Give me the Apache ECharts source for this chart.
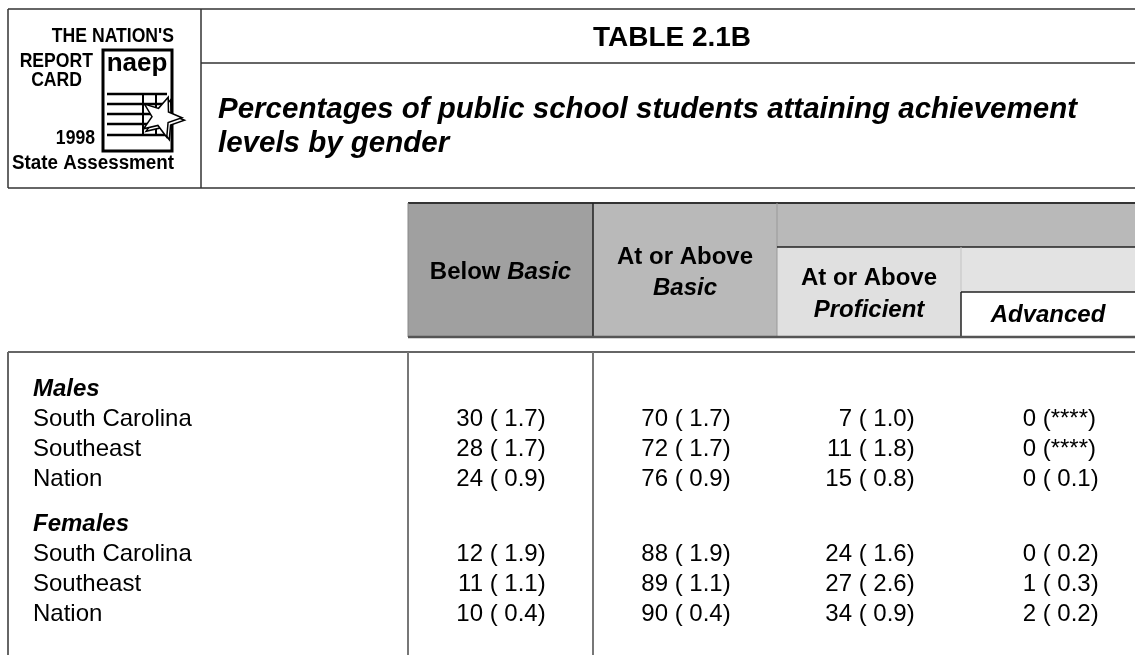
<!DOCTYPE html>
<html><head><meta charset="utf-8">
<script src="https://cdn.jsdelivr.net/npm/echarts@6.0.0/dist/echarts.min.js"></script>
<style>html,body{margin:0;padding:0;background:#fff}#c{width:1135px;height:655px}</style>
</head><body><div id="c"></div>
<script>
// ---------------- data ----------------
const tableTitle = 'TABLE 2.1B';
const subtitleLines = ['Percentages of public school students attaining achievement', 'levels by gender'];
const logoLines = ["THE NATION'S", 'REPORT', 'CARD', '1998', 'State Assessment'];
const logoMark = 'naep';
const groups = ['Males', 'Females'];
const jurisdictions = ['South Carolina', 'Southeast', 'Nation'];
const belowBasicPct = [30, 28, 24, 12, 11, 10];
const belowBasicSE  = ['1.7', '1.7', '0.9', '1.9', '1.1', '0.4'];
const basicPct      = [70, 72, 76, 88, 89, 90];
const basicSE       = ['1.7', '1.7', '0.9', '1.9', '1.1', '0.4'];
const proficientPct = [7, 11, 15, 24, 27, 34];
const proficientSE  = ['1.0', '1.8', '0.8', '1.6', '2.6', '0.9'];
const advancedPct   = [0, 0, 0, 0, 1, 2];
const advancedSE    = ['****', '****', '0.1', '0.2', '0.3', '0.2'];
const pctColumns = [belowBasicPct, basicPct, proficientPct, advancedPct];
const seColumns  = [belowBasicSE, basicSE, proficientSE, advancedSE];

// ---------------- layout / style ----------------
const FAM = '"Liberation Sans", Arial, Helvetica, sans-serif';
function font(size, weight, style) { return (style || 'normal') + ' ' + (weight || 'normal') + ' ' + size + 'px ' + FAM; }
const colLeft = [408, 593, 777, 961];
const intOffset = 75;
const labelX = 33;
const rowBand = 30;
const blockTops = [374.5, 509];
const LINE = '#333';

function t(text, x, y, fnt, align, extra) {
  return Object.assign({ type: 'text', silent: true, style: { text: text, x: x, y: y, font: fnt, fill: '#000', align: align || 'left', verticalAlign: 'middle' } }, extra || {});
}
function ts(text, x, y, fnt, align, sx) {
  return { type: 'text', silent: true, x: x, y: y, scaleX: sx, style: { text: text, x: 0, y: 0, font: fnt, fill: '#000', align: align, verticalAlign: 'middle' } };
}
function rect(x1, y1, x2, y2, fill) {
  return { type: 'rect', silent: true, shape: { x: x1, y: y1, width: x2 - x1, height: y2 - y1 }, style: { fill: fill } };
}
function line(x1, y1, x2, y2, color, w) {
  return { type: 'line', silent: true, shape: { x1: x1, y1: y1, x2: x2, y2: y2 }, style: { stroke: color || LINE, lineWidth: w || 1.5 } };
}

const graphics = [];
// top frame
graphics.push(line(8, 9, 1135, 9));
graphics.push(line(8, 9, 8, 188));
graphics.push(line(201, 9, 201, 188));
graphics.push(line(201, 63, 1135, 63));
graphics.push(line(8, 188, 1135, 188));
// title & subtitle
graphics.push(t(tableTitle, 672, 38, font(28, 'bold'), 'center'));
graphics.push(t(subtitleLines[0], 218, 110, font(29.5, 'bold', 'italic'), 'left'));
graphics.push(t(subtitleLines[1], 218, 144, font(29.5, 'bold', 'italic'), 'left'));

// logo
const lf = font(20, 'bold');
const LS = 0.88;
graphics.push(ts(logoLines[0], 174, 36, lf, 'right', LS));
graphics.push(ts(logoLines[1], 93, 61, lf, 'right', LS));
graphics.push(ts(logoLines[2], 82, 80, lf, 'right', LS));
graphics.push(ts(logoLines[3], 95, 138, lf, 'right', LS));
graphics.push(ts(logoLines[4], 174, 163, lf, 'right', 0.94));
graphics.push({ type: 'rect', silent: true, shape: { x: 103, y: 50, width: 69, height: 101 }, style: { fill: '#fff', stroke: '#000', lineWidth: 3 } });
graphics.push(ts(logoMark, 137, 64, font(26, 'bold'), 'center', 1));
[94, 104, 114, 124, 135].forEach(function (yy) { graphics.push(line(107, yy, 167, yy, '#000', 2.5)); });
graphics.push(line(143, 94, 143, 135, '#000', 2));
graphics.push(line(156, 94, 156, 135, '#000', 2));
(function () {
  const cx = 161, cy = 117, R = 21, r = 9;
  const pts = [];
  for (let i = 0; i < 10; i++) {
    const a = -Math.PI / 2 + 0.35 + i * Math.PI / 5;
    const rr = i % 2 === 0 ? R : r;
    pts.push([cx + rr * Math.cos(a), cy + rr * Math.sin(a)]);
  }
  graphics.push({ type: 'polygon', silent: true, shape: { points: pts.map(function (p) { return [p[0] + 2.5, p[1] + 2.5]; }) }, style: { fill: '#fff', stroke: '#000', lineWidth: 1.5 } });
  graphics.push({ type: 'polygon', silent: true, shape: { points: pts }, style: { fill: '#fff', stroke: '#000', lineWidth: 1.5 } });
})();

// header cells
const hb = font(24, 'bold');
const hbi = font(24, 'bold', 'italic');
graphics.push(rect(408, 203, 593, 337, '#a0a0a0'));
graphics.push(rect(593, 203, 777, 337, '#b9b9b9'));
graphics.push(rect(777, 203, 1135, 247, '#b9b9b9'));
graphics.push(rect(777, 247, 961, 337, '#e0e0e0'));
graphics.push(rect(961, 247, 1135, 292, '#e3e3e3'));
graphics.push(rect(961, 292, 1135, 337, '#ffffff'));
graphics.push({ type: 'text', silent: true, style: { text: '{b|Below }{i|Basic}', x: 500.5, y: 272, align: 'center', verticalAlign: 'middle', rich: { b: { font: hb, fill: '#000' }, i: { font: hbi, fill: '#000' } } } });
graphics.push(t('At or Above', 685, 257, hb, 'center'));
graphics.push(t('Basic', 685, 288, hbi, 'center'));
graphics.push(t('At or Above', 869, 278, hb, 'center'));
graphics.push(t('Proficient', 869, 310, hbi, 'center'));
graphics.push(t('Advanced', 1048, 315, hbi, 'center'));
graphics.push(line(408, 203, 1135, 203, '#333', 2));
graphics.push(line(593, 203, 593, 337, '#222', 1.5));
graphics.push(line(777, 203, 777, 337, '#999', 1));
graphics.push(line(777, 247, 1135, 247, '#222', 1.5));
graphics.push(line(961, 247, 961, 292, '#c4c4c4', 1));
graphics.push(line(961, 292, 961, 337, '#222', 1.5));
graphics.push(line(961, 292, 1135, 292, '#222', 1.5));
graphics.push(line(408, 203, 408, 337, '#888', 1));
graphics.push(line(408, 337, 1135, 337, '#555', 2.5));

// body frame
graphics.push(line(8, 352, 1135, 352, '#666', 2));
graphics.push(line(8, 352, 8, 655, '#666', 2));
graphics.push(line(408, 352, 408, 655, '#777', 2));
graphics.push(line(593, 352, 593, 655, '#777', 2));

// ---------------- body rows via custom series on category axes ----------------
const rowFont = font(24);
const groupFont = font(24, 'bold', 'italic');
function makeRender(block) {
  return function (params, api) {
    const k = params.dataIndex;
    const y = api.coord([0, k])[1];
    const children = [];
    if (k === 0) {
      children.push(t(groups[block], labelX, y, groupFont, 'left'));
    } else {
      const r = block * 3 + (k - 1);
      children.push(t(jurisdictions[k - 1], labelX, y, rowFont, 'left'));
      for (let c = 0; c < 4; c++) {
        const xi = api.coord([colLeft[c] + intOffset, k])[0];
        const se = seColumns[c][r];
        children.push(t(String(pctColumns[c][r]), xi, y, rowFont, 'right'));
        children.push(t(' (' + (se === '****' ? se : ' ' + se) + ')', xi, y, rowFont, 'left'));
      }
    }
    return { type: 'group', children: children };
  };
}

const chart = echarts.init(document.getElementById('c'), null, { renderer: 'canvas' });
chart.setOption({
  animation: false,
  backgroundColor: '#fff',
  grid: blockTops.map(function (top) { return { left: 0, right: 0, top: top, height: rowBand * 4, containLabel: false, show: false }; }),
  xAxis: blockTops.map(function (_, i) { return { gridIndex: i, type: 'value', min: 0, max: 1135, show: false }; }),
  yAxis: blockTops.map(function (_, i) { return { gridIndex: i, type: 'category', inverse: true, show: false, data: [groups[i]].concat(jurisdictions) }; }),
  series: blockTops.map(function (_, i) {
    return {
      type: 'custom', xAxisIndex: i, yAxisIndex: i, silent: true,
      renderItem: makeRender(i),
      data: [groups[i]].concat(jurisdictions).map(function (name, k) { return [0, k]; })
    };
  }),
  graphic: graphics
});
</script>
</body></html>
